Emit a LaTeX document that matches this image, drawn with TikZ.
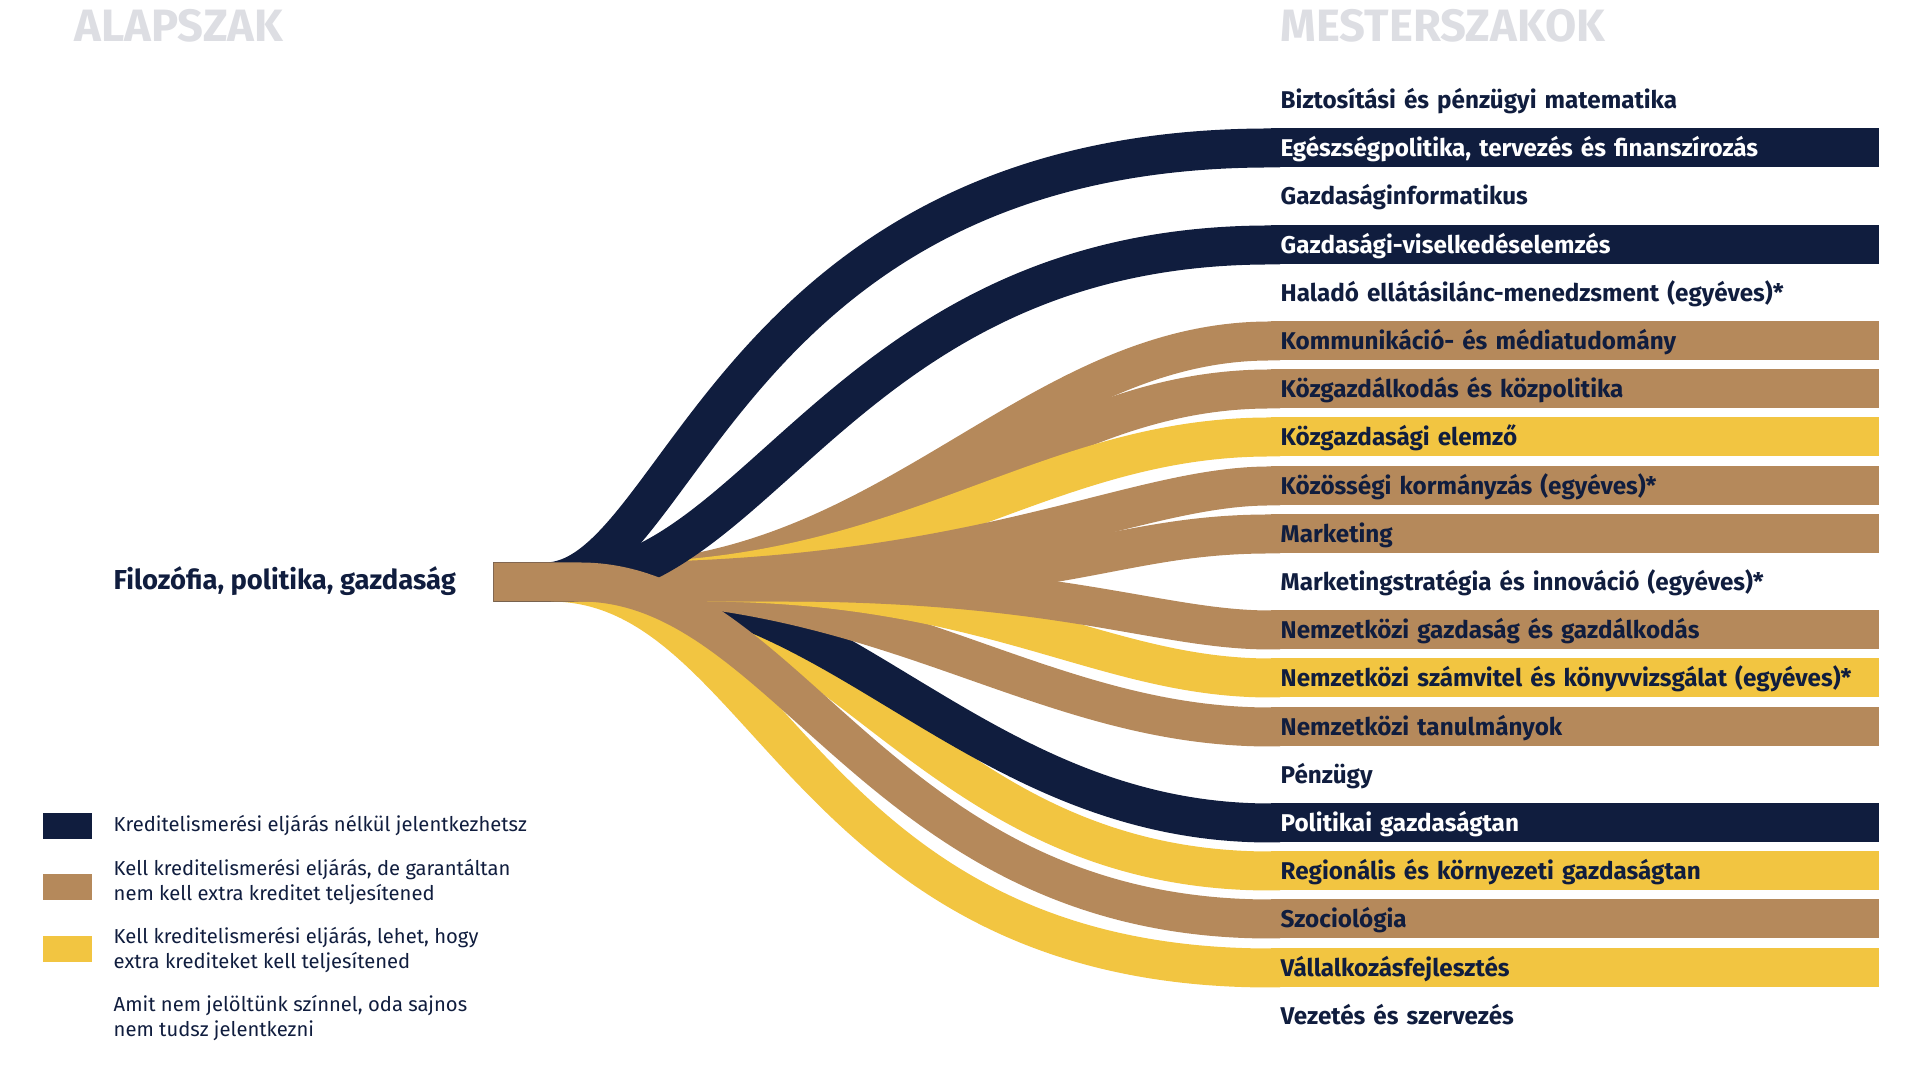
\documentclass[tikz,border=0pt]{standalone}
\usepackage{fontspec}
\setmainfont{Fira Sans}
\usepackage{xcolor}
\definecolor{szaknavy}{RGB}{16,29,62}
\definecolor{szakbrown}{RGB}{181,137,91}
\definecolor{szakyellow}{RGB}{242,197,65}
\definecolor{headgray}{RGB}{221,222,227}

\begin{document}
\begin{tikzpicture}[
  bar/.style={anchor=west, minimum width=6.08cm, minimum height=0.39cm,
              inner xsep=0.1cm, inner ysep=0pt, text width=5.88cm, align=left,
              text height=0.165cm, text depth=0cm,
              font=\fontsize{6.9}{8}\selectfont\bfseries, text=szaknavy},
  flow/.style={line width=0.39cm},
  swatch/.style={minimum width=0.49cm, minimum height=0.26cm, inner sep=0pt},
  legtext/.style={anchor=west, align=left, inner sep=0pt,
                  font=\fontsize{5.75}{7}\selectfont, text=szaknavy},
  head/.style={anchor=base west, inner sep=0pt,
               font=\fontsize{12.9}{15}\selectfont\bfseries, text=headgray},
]
\useasboundingbox (0,0) rectangle (19.21,10.80);

% Headers
\node[head] (alap) at (0.74,10.38) {ALAPSZAK};
\node[head] (mester) at (12.80,10.38) {MESTERSZAKOK};

% Source
\node[fill=szakbrown, minimum width=0.43cm, minimum height=0.40cm,
      inner sep=0pt] (fpg) at (5.155,4.98) {};
\node[anchor=west, inner sep=0pt, text height=0.19cm, text depth=0cm,
      font=\fontsize{7.8}{9}\selectfont\bfseries, text=szaknavy] (fpglabel)
  at (1.13,5.00) {Filozófia, politika, gazdaság};

% Master programmes
\node[bar] (m1) at (12.70,9.80) {Biztosítási és pénzügyi matematika};
\node[bar, fill=szaknavy, text=white] (m2) at (12.70,9.32)
  {Egészségpolitika, tervezés és finanszírozás};
\node[bar] (m3) at (12.70,8.84) {Gazdaságinformatikus};
\node[bar, fill=szaknavy, text=white] (m4) at (12.70,8.35)
  {Gazdasági-viselkedéselemzés};
\node[bar] (m5) at (12.70,7.87) {Haladó ellátásilánc-menedzsment (egyéves)*};
\node[bar, fill=szakbrown] (m6) at (12.70,7.39) {Kommunikáció- és médiatudomány};
\node[bar, fill=szakbrown] (m7) at (12.70,6.91) {Közgazdálkodás és közpolitika};
\node[bar, fill=szakyellow] (m8) at (12.70,6.43) {Közgazdasági elemző};
\node[bar, fill=szakbrown] (m9) at (12.70,5.94) {Közösségi kormányzás (egyéves)*};
\node[bar, fill=szakbrown] (m10) at (12.70,5.46) {Marketing};
\node[bar] (m11) at (12.70,4.98) {Marketingstratégia és innováció (egyéves)*};
\node[bar, fill=szakbrown] (m12) at (12.70,4.50) {Nemzetközi gazdaság és gazdálkodás};
\node[bar, fill=szakyellow] (m13) at (12.70,4.02)
  {Nemzetközi számvitel és könyvvizsgálat (egyéves)*};
\node[bar, fill=szakbrown] (m14) at (12.70,3.53) {Nemzetközi tanulmányok};
\node[bar] (m15) at (12.70,3.05) {Pénzügy};
\node[bar, fill=szaknavy, text=white] (m16) at (12.70,2.57) {Politikai gazdaságtan};
\node[bar, fill=szakyellow] (m17) at (12.70,2.09)
  {Regionális és környezeti gazdaságtan};
\node[bar, fill=szakbrown] (m18) at (12.70,1.61) {Szociológia};
\node[bar, fill=szakyellow] (m19) at (12.70,1.12) {Vállalkozásfejlesztés};
\node[bar] (m20) at (12.70,0.64) {Vezetés és szervezés};

% Lower flows (drawn first)
\draw[flow, szakyellow] (fpg.west) -- (5.50,4.98)
  .. controls (7.70,4.98) and (8.00,1.12) .. (m19.west) -- +(0.1,0);
\draw[flow, szakyellow] (fpg.west) -- (6.00,4.98)
  .. controls (8.40,4.98) and (9.30,2.09) .. (m17.west) -- +(0.1,0);
\draw[flow, szaknavy] (fpg.west) -- (6.10,4.98)
  .. controls (8.40,4.98) and (9.80,2.57) .. (m16.west) -- +(0.1,0);
\draw[flow, szakbrown] (fpg.west) -- (5.90,4.98)
  .. controls (8.90,4.98) and (10.40,3.53) .. (m14.west) -- +(0.1,0);
\draw[flow, szakyellow] (fpg.west) -- (7.00,4.98)
  .. controls (9.90,4.98) and (11.00,4.02) .. (m13.west) -- +(0.1,0);
\draw[flow, szakbrown] (fpg.west) -- (7.80,4.98)
  .. controls (10.60,4.98) and (11.60,4.50) .. (m12.west) -- +(0.1,0);

% Upper flows
\draw[flow, szakbrown] (fpg.west) -- (6.00,4.98)
  .. controls (8.90,4.98) and (10.30,7.39) .. (m6.west) -- +(0.1,0);
\draw[flow, szakbrown] (fpg.west) -- (6.20,4.98)
  .. controls (9.00,4.98) and (10.30,6.91) .. (m7.west) -- +(0.1,0);
\draw[flow, szakyellow] (fpg.west) -- (6.10,4.98)
  .. controls (9.10,4.98) and (10.40,6.43) .. (m8.west) -- +(0.1,0);
\draw[flow, szakbrown] (fpg.west) -- (6.00,4.98)
  .. controls (9.80,4.98) and (11.30,5.94) .. (m9.west) -- +(0.1,0);
\draw[flow, szakbrown] (fpg.west) -- (8.00,4.98)
  .. controls (10.70,4.98) and (11.20,5.46) .. (m10.west) -- +(0.1,0);
\draw[flow, szaknavy] (fpg.west) -- (5.65,4.98)
  .. controls (7.60,4.98) and (8.50,8.35) .. (m4.west) -- +(0.1,0);
\draw[flow, szaknavy] (fpg.west) -- (5.45,4.98)
  .. controls (6.80,4.98) and (7.30,9.32) .. (m2.west) -- +(0.1,0);

% Szociológia on top
\draw[flow, szakbrown] (fpg.west) -- (5.80,4.98)
  .. controls (7.90,4.98) and (8.80,1.61) .. (m18.west) -- +(0.1,0);

% Legend
\node[swatch, fill=szaknavy] (l1) at (0.675,2.54) {};
\node[swatch, fill=szakbrown] (l2) at (0.675,1.93) {};
\node[swatch, fill=szakyellow] (l3) at (0.675,1.31) {};
\node[legtext] (t1) at (1.13,2.54) {Kreditelismerési eljárás nélkül jelentkezhetsz};
\node[legtext] (t2) at (1.13,1.98)
  {Kell kreditelismerési eljárás, de garantáltan\\nem kell extra kreditet teljesítened};
\node[legtext] (t3) at (1.13,1.30)
  {Kell kreditelismerési eljárás, lehet, hogy\\extra krediteket kell teljesítened};
\node[legtext] (t4) at (1.13,0.62)
  {Amit nem jelöltünk színnel, oda sajnos\\nem tudsz jelentkezni};
\end{tikzpicture}
\end{document}
